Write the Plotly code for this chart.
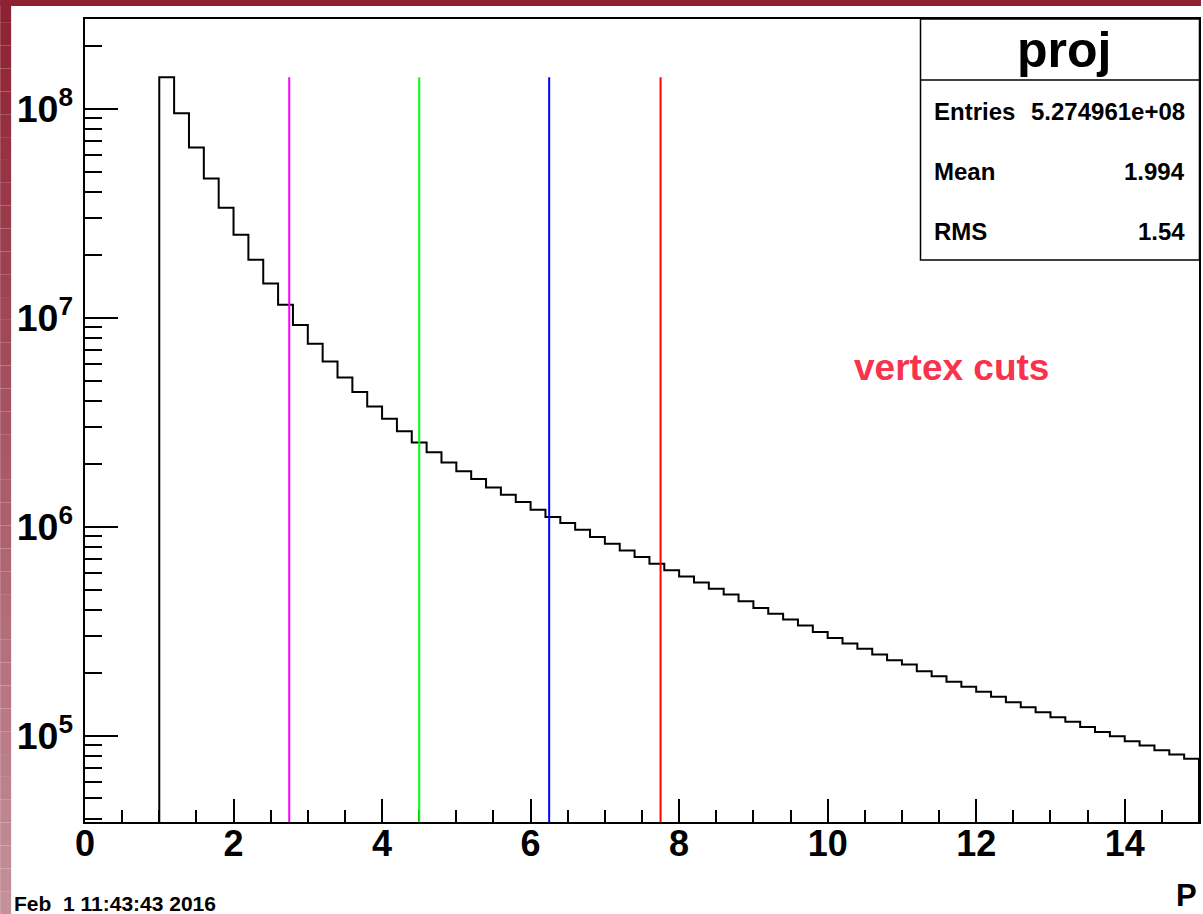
import numpy as np
import plotly.graph_objects as go

# ---------------- data ----------------
hist_title = "proj"
bin_low = 1.0
bin_width = 0.2
counts = [1.418e8, 9.54e7, 6.53e7, 4.64e7, 3.36e7, 2.50e7, 1.895e7, 1.459e7, 1.154e7, 9.23e6,
          7.51e6, 6.18e6, 5.18e6, 4.41e6, 3.76e6, 3.29e6, 2.86e6, 2.53e6, 2.27e6, 2.03e6,
          1.84e6, 1.69e6, 1.54e6, 1.42e6, 1.313e6, 1.206e6, 1.113e6, 1.041e6, 9.67e5, 8.93e5,
          8.29e5, 7.68e5, 7.16e5, 6.65e5, 6.18e5, 5.77e5, 5.41e5, 5.05e5, 4.73e5, 4.39e5,
          4.08e5, 3.83e5, 3.59e5, 3.36e5, 3.13e5, 2.93e5, 2.76e5, 2.60e5, 2.44e5, 2.29e5,
          2.19e5, 2.03e5, 1.92e5, 1.807e5, 1.71e5, 1.619e5, 1.532e5, 1.443e5, 1.366e5, 1.293e5,
          1.224e5, 1.163e5, 1.10e5, 1.041e5, 9.92e4, 9.39e4, 8.96e4, 8.50e4, 8.11e4, 7.74e4]
cut_values = [2.75, 4.5, 6.25, 7.75]
cut_colors = ["#ff00ff", "#00ff00", "#0000ff", "#ff0000"]
stat_names = ["Entries", "Mean", "RMS"]
stat_values = ["5.274961e+08", "1.994", "1.54"]
label_text = "vertex cuts"
x_title = "P"
date_text = "Feb \u00a01 11:43:43 2016"

# ---------------- geometry helpers (pixel -> paper) ----------------
W, H = 1203, 914
ML, MR, MT, MB = 85, 2, 19, 92
PW, PH = W - ML - MR, H - MT - MB


def px(x):
    return (x - ML) / PW


def py(y):
    return (H - MB - y) / PH


FONT = "Liberation Sans, Arial, Helvetica, sans-serif"
y_lo, y_hi = 4.586, 8.4306
y_floor = 1e4

edges = bin_low + bin_width * np.arange(len(counts) + 1)
hx = [edges[0]] + list(edges[:-1]) + [edges[-1], edges[-1]]
hy = [y_floor] + list(counts) + [counts[-1], y_floor]

fig = go.Figure()
fig.add_trace(go.Scatter(x=hx, y=hy, mode="lines", line=dict(color="black", width=2, shape="hv"),
                         showlegend=False, hoverinfo="skip"))
for c, col in zip(cut_values, cut_colors):
    fig.add_trace(go.Scatter(x=[c, c], y=[y_floor, max(counts)], mode="lines",
                             line=dict(color=col, width=2), showlegend=False, hoverinfo="skip"))

shapes = []
# page background decoration (dark red frame with gradient on the left)
n = 40
top_c = np.array([0x8e, 0x22, 0x33])
bot_c = np.array([0xc4, 0x90, 0x9a])
for i in range(n):
    t = i / (n - 1)
    col = top_c + (bot_c - top_c) * t
    y0 = H * i / n
    y1 = H * (i + 1) / n
    shapes.append(dict(type="rect", xref="paper", yref="paper", x0=px(0), x1=px(11),
                       y0=py(y1), y1=py(y0), line=dict(width=0),
                       fillcolor="rgb(%d,%d,%d)" % tuple(col.astype(int)), layer="below"))
shapes.append(dict(type="rect", xref="paper", yref="paper", x0=px(0), x1=px(W),
                   y0=py(6), y1=py(0), line=dict(width=0), fillcolor="#8e2233", layer="below"))
# stats box
shapes.append(dict(type="rect", xref="paper", yref="paper", x0=px(922), x1=px(1201.5),
                   y0=py(260), y1=py(19), line=dict(color="black", width=1.5), fillcolor="white"))
shapes.append(dict(type="line", xref="paper", yref="paper", x0=px(922), x1=px(1201.5),
                   y0=py(80), y1=py(80), line=dict(color="black", width=1.5)))

ann = []
ann.append(dict(text=hist_title, x=px(1066), y=py(50), xref="paper", yref="paper",
                showarrow=False, xanchor="center", yanchor="middle",
                font=dict(family=FONT, size=50, color="black", weight="bold")))
for i, (nm, val) in enumerate(zip(stat_names, stat_values)):
    yy = py(111 + 60.5 * i)
    ann.append(dict(text=nm, x=px(934), y=yy, xref="paper", yref="paper", showarrow=False,
                    xanchor="left", yanchor="middle",
                    font=dict(family=FONT, size=24, color="black", weight="bold")))
    ann.append(dict(text=val, x=px(1189), y=yy, xref="paper", yref="paper", showarrow=False,
                    xanchor="right", yanchor="middle",
                    font=dict(family=FONT, size=24, color="black", weight="bold")))
ann.append(dict(text=label_text, x=px(953), y=py(368), xref="paper", yref="paper",
                showarrow=False, xanchor="center", yanchor="middle",
                font=dict(family=FONT, size=37, color="#f8334b", weight="bold")))
ann.append(dict(text=x_title, x=px(1201), y=py(896), xref="paper", yref="paper",
                showarrow=False, xanchor="right", yanchor="middle",
                font=dict(family=FONT, size=31, color="black", weight="bold")))
ann.append(dict(text=date_text, x=px(12), y=py(903), xref="paper", yref="paper",
                showarrow=False, xanchor="left", yanchor="middle",
                font=dict(family=FONT, size=21, color="black", weight="bold")))

fig.update_layout(
    width=W, height=H,
    margin=dict(l=ML, r=MR, t=MT, b=MB, pad=0),
    paper_bgcolor="white", plot_bgcolor="white",
    shapes=shapes, annotations=ann,
    xaxis=dict(range=[0, 15], showgrid=False, zeroline=False, showline=True, linecolor="black",
               linewidth=2, mirror=True, ticks="inside", ticklen=23, tickwidth=2, tickcolor="black",
               dtick=2, tick0=0, layer="below traces", ticklabelstandoff=-11,
               minor=dict(ticks="inside", ticklen=12, tickwidth=2, tickcolor="black", dtick=0.5,
                          showgrid=False),
               tickfont=dict(family=FONT, size=36, color="black", weight="bold")),
    yaxis=dict(type="log", range=[y_lo, y_hi], showgrid=False, zeroline=False, showline=True,
               linecolor="black", linewidth=2, mirror=True, ticks="inside", ticklen=33,
               tickwidth=2, tickcolor="black", dtick=1, exponentformat="power",
               layer="below traces", ticklabelstandoff=4,
               minor=dict(ticks="inside", ticklen=17, tickwidth=2, tickcolor="black", dtick="D1",
                          showgrid=False),
               tickfont=dict(family=FONT, size=30, color="black", weight="bold")),
)

fig.write_html("out.html", config={"displayModeBar": False},
               post_script="document.body.style.margin='0';")
